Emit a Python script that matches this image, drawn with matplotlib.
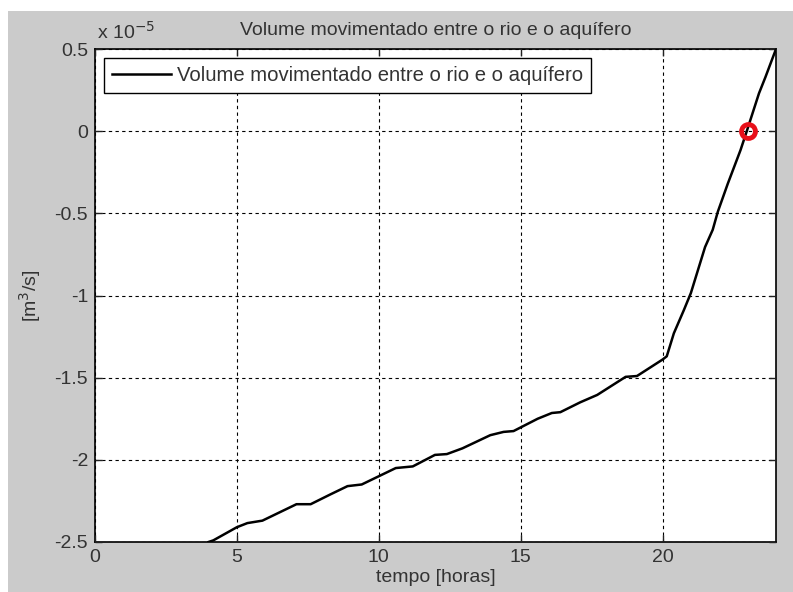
import numpy as np
import matplotlib.pyplot as plt
from matplotlib.patches import Rectangle

plt.rcParams['font.family'] = ['Liberation Sans', 'DejaVu Sans']
plt.rcParams['axes.unicode_minus'] = False

# Tempo [horas] e volume (x 1e-5 m3/s)
tempo = [4.0, 4.17, 5.0, 5.37, 5.9, 6.5, 7.1, 7.6, 8.3, 8.9, 9.4, 10.0, 10.6,
         11.2, 11.98, 12.4, 12.95, 13.93, 14.4, 14.75, 15.6, 16.1, 16.4, 17.1,
         17.7, 18.7, 19.1, 20.0, 20.15, 20.4, 20.75, 21.0, 21.25, 21.5, 21.77,
         21.95, 22.3, 22.75, 22.97, 23.4, 23.63, 24.0]
volume = [-2.5, -2.49, -2.41, -2.385, -2.37, -2.32, -2.27, -2.27, -2.21, -2.16,
          -2.15, -2.10, -2.05, -2.04, -1.97, -1.965, -1.93, -1.85, -1.83, -1.825,
          -1.75, -1.715, -1.71, -1.65, -1.605, -1.495, -1.49, -1.39, -1.37,
          -1.23, -1.09, -0.985, -0.845, -0.705, -0.60, -0.49, -0.32, -0.115,
          0.0, 0.23, 0.33, 0.5]

# Ponto onde o volume troca de sinal
t_zero = 23.0
v_zero = 0.0

xticks = [0, 5, 10, 15, 20]
yticks = [-2.5, -2, -1.5, -1, -0.5, 0, 0.5]
ylabels = ['-2.5', '-2', '-1.5', '-1', '-0.5', '0', '0.5']

fs = 14

fig = plt.figure(figsize=(7.93, 5.92), dpi=100)
fig.patch.set_facecolor('white')
# fundo cinza como na janela do MATLAB
fig.patches.append(Rectangle((8/793, 0), 1, 1 - 11/592, transform=fig.transFigure,
                             facecolor='#cbcbcb', edgecolor='none', zorder=-10))

ax = fig.add_axes([95/793, 50/592, 681/793, 493/592])
ax.set_facecolor('white')

ax.plot(tempo, volume, color='black', linewidth=1.8,
        label='Volume movimentado entre o rio e o aquífero', zorder=3)
ax.plot(t_zero, v_zero, 'o', markerfacecolor='none', markeredgecolor='#e8101a',
        markeredgewidth=3.5, markersize=10, zorder=4)

ax.set_xlim(0, 24)
ax.set_ylim(-2.5, 0.5)
ax.set_xticks(xticks)
ax.set_yticks(yticks)
ax.set_yticklabels(ylabels)
ax.tick_params(direction='in', top=True, right=True, labelsize=fs,
               length=5, width=1, pad=5, colors='#222222', labelcolor='#333333')
for s in ax.spines.values():
    s.set_linewidth(1.2)

ax.grid(True, color='black', linestyle=(0, (3, 3)), linewidth=0.8)
ax.set_axisbelow(False)

ax.set_xlabel('tempo [horas]', fontsize=fs, labelpad=2, color='#333333')
ax.set_ylabel('[m$^3$/s]', fontsize=fs, labelpad=8, color='#333333')
ax.set_title('Volume movimentado entre o rio e o aquífero', fontsize=fs, pad=10,
             color='#333333')
ax.text(0.003, 1.012, 'x 10$^{-5}$', transform=ax.transAxes, fontsize=fs,
        ha='left', va='bottom', color='#333333')

leg = ax.legend(loc='upper left', fontsize=14.6, frameon=True, fancybox=False,
                edgecolor='black', framealpha=1, handlelength=2.9,
                handletextpad=0.3, borderaxespad=0.45, borderpad=0.4)
leg.get_frame().set_linewidth(1.0)
for t in leg.get_texts():
    t.set_color('#333333')

plt.savefig('out.png', dpi=100, facecolor=fig.get_facecolor())
